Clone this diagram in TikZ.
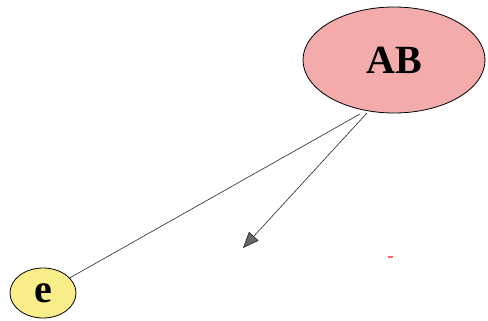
\documentclass[tikz,border=0pt]{standalone}
\usepackage{fontspec}
\setmainfont{Liberation Serif}
\usetikzlibrary{shapes.geometric,arrows.meta}
\definecolor{abfill}{HTML}{F4ABAB}
\definecolor{efill}{HTML}{FAEE8A}
\tikzset{
  vertex/.style={ellipse,draw=black,line width=0.8pt,inner sep=0pt,font=\fontsize{40}{44}\selectfont\bfseries},
  link/.style={draw=black!85,line width=0.6pt}
}
\begin{document}
\begin{tikzpicture}[x=1pt,y=-1pt]
\useasboundingbox (0,0) rectangle (488,321);
\node[vertex,fill=abfill,minimum width=182pt,minimum height=106pt] (AB) at (394,60) {AB};
\node[vertex,fill=efill,minimum width=66pt,minimum height=50pt] (e) at (43,293) {e};
\coordinate (tip) at (243,248);
\coordinate (s1) at (360,114);
\coordinate (s2) at (367,113);
\draw[link] (s1) -- (e);
\draw[link,-{Triangle[length=16pt,width=13pt,fill=black!60]}] (s2) -- (tip);
\coordinate (d1) at (388,257);
\coordinate (d2) at (393,257);
\draw[red!60,line width=1.2pt] (d1) -- (d2);
\end{tikzpicture}
\end{document}
